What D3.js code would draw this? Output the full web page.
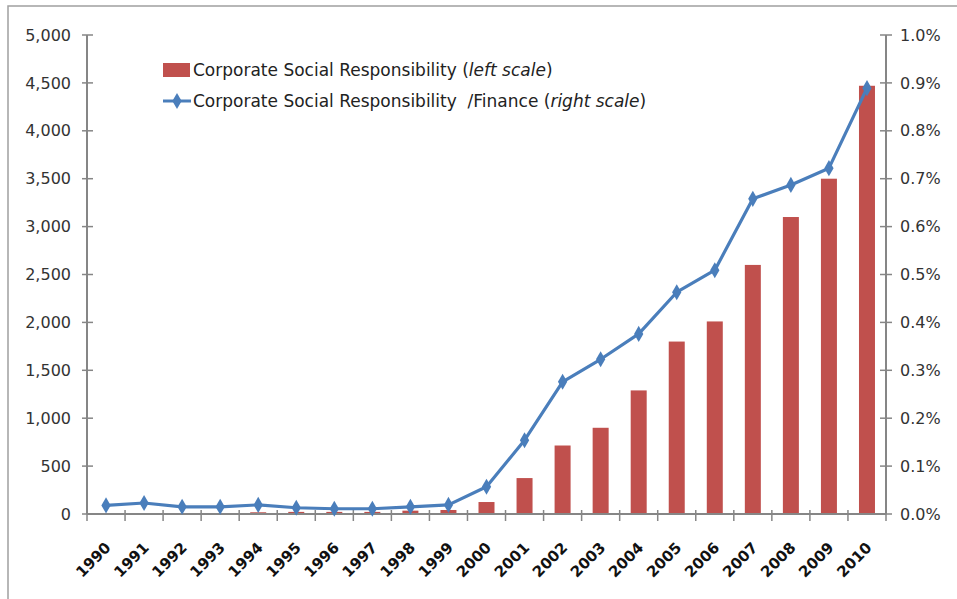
<!DOCTYPE html>
<html><head><meta charset="utf-8">
<script src="https://cdnjs.cloudflare.com/ajax/libs/d3/7.8.5/d3.min.js"></script>
<style>body{margin:0;background:#fff;} svg{display:block;}</style>
</head><body>
<script>
const years = ["1990","1991","1992","1993","1994","1995","1996","1997","1998","1999","2000","2001","2002","2003","2004","2005","2006","2007","2008","2009","2010"];
const csrCounts = [3,4,3,3,18,22,22,22,35,42,125,375,715,900,1290,1800,2010,2600,3100,3500,4470];
const csrShare = [0.018,0.023,0.015,0.015,0.019,0.013,0.011,0.011,0.015,0.019,0.057,0.154,0.276,0.323,0.376,0.463,0.509,0.658,0.687,0.722,0.889];
const leftTicks = [0,500,1000,1500,2000,2500,3000,3500,4000,4500,5000];
const rightTicks = [0,0.1,0.2,0.3,0.4,0.5,0.6,0.7,0.8,0.9,1.0];

const W=957,H=599;
const svg=d3.select("body").append("svg").attr("width",W).attr("height",H);
const font="'DejaVu Sans', Verdana, sans-serif";
const axisCol="#868686";

// frame
svg.append("rect").attr("x",8).attr("y",6).attr("width",960).attr("height",620)
  .attr("fill","none").attr("stroke","#a0a0a0").attr("stroke-width",1.5);

const L=87,R=886,T=35,B=514;
const x=d3.scaleBand().domain(years).range([L,R]).paddingInner(0).paddingOuter(0);
const yL=d3.scaleLinear().domain([0,5000]).range([B,T]);
const yR=d3.scaleLinear().domain([0,1.0]).range([B,T]);
const barW=16;

// bars
svg.append("g").selectAll("rect").data(years).join("rect")
  .attr("x",d=>x(d)+x.bandwidth()/2-barW/2)
  .attr("y",(d,i)=>yL(csrCounts[i]))
  .attr("width",barW)
  .attr("height",(d,i)=>B-yL(csrCounts[i]))
  .attr("fill","#C0504D");

// x axis
const gx=svg.append("g");
gx.append("line").attr("x1",L).attr("x2",R).attr("y1",B).attr("y2",B).attr("stroke",axisCol).attr("stroke-width",2);
const bounds=years.map(d=>x(d)).concat([R]);
gx.selectAll("line.t").data(bounds).join("line").attr("class","t")
  .attr("x1",d=>d).attr("x2",d=>d).attr("y1",B-4).attr("y2",B+7)
  .attr("stroke",axisCol).attr("stroke-width",1.5);
gx.selectAll("text").data(years).join("text")
  .attr("transform",d=>`translate(${x(d)+x.bandwidth()/2+2},${B+31}) rotate(-45)`)
  .attr("text-anchor","end").attr("dy","0.35em")
  .attr("font-family",font).attr("font-weight","bold").attr("font-size",15).attr("fill","#111")
  .text(d=>d);

// left axis
const gl=svg.append("g");
gl.append("line").attr("x1",L).attr("x2",L).attr("y1",T).attr("y2",B).attr("stroke",axisCol).attr("stroke-width",2);
gl.selectAll("line.t").data(leftTicks).join("line").attr("class","t")
  .attr("x1",L-5).attr("x2",L+6).attr("y1",d=>yL(d)).attr("y2",d=>yL(d))
  .attr("stroke",axisCol).attr("stroke-width",1.5);
gl.selectAll("text").data(leftTicks).join("text")
  .attr("x",71).attr("y",d=>yL(d)).attr("dy","0.35em").attr("text-anchor","end")
  .attr("font-family",font).attr("font-size",16).attr("fill","#333")
  .text(d=>d3.format(",")(d));

// right axis
const gr=svg.append("g");
gr.append("line").attr("x1",R).attr("x2",R).attr("y1",T).attr("y2",B).attr("stroke",axisCol).attr("stroke-width",2);
gr.selectAll("line.t").data(rightTicks).join("line").attr("class","t")
  .attr("x1",R-6).attr("x2",R+6).attr("y1",d=>yR(d)).attr("y2",d=>yR(d))
  .attr("stroke",axisCol).attr("stroke-width",1.5);
gr.selectAll("text").data(rightTicks).join("text")
  .attr("x",900).attr("y",d=>yR(d)).attr("dy","0.35em").attr("text-anchor","start")
  .attr("font-family",font).attr("font-size",16).attr("fill","#333")
  .text(d=>d.toFixed(1)+"%");

// line
const lineCol="#4A7EBB";
const pts=years.map((d,i)=>[x(d)+x.bandwidth()/2,yR(csrShare[i])]);
svg.append("path").attr("d",d3.line()(pts)).attr("fill","none").attr("stroke",lineCol).attr("stroke-width",3.2).attr("stroke-linejoin","round");
const diamond=d3.symbol().type(d3.symbolDiamond).size(75);
svg.append("g").selectAll("path").data(pts).join("path")
  .attr("transform",d=>`translate(${d[0]},${d[1]})`).attr("d",diamond).attr("fill",lineCol);

// legend
const lg=svg.append("g");
lg.append("rect").attr("x",163).attr("y",63).attr("width",27).attr("height",14).attr("fill","#C0504D");
lg.append("line").attr("x1",163).attr("x2",191).attr("y1",101).attr("y2",101).attr("stroke",lineCol).attr("stroke-width",3);
lg.append("path").attr("transform","translate(177,101)").attr("d",diamond).attr("fill",lineCol);
const t1=lg.append("text").attr("x",193).attr("y",70).attr("dy","0.35em").attr("font-family",font).attr("font-size",17).attr("fill","#222");
t1.append("tspan").text("Corporate Social Responsibility (");
t1.append("tspan").attr("font-style","italic").text("left scale");
t1.append("tspan").text(")");
const t2=lg.append("text").attr("x",193).attr("y",101).attr("dy","0.35em").attr("font-family",font).attr("font-size",17).attr("fill","#222").attr("xml:space","preserve");
t2.append("tspan").text("Corporate Social Responsibility \u00A0/Finance (");
t2.append("tspan").attr("font-style","italic").text("right scale");
t2.append("tspan").text(")");
</script>
</body></html>
